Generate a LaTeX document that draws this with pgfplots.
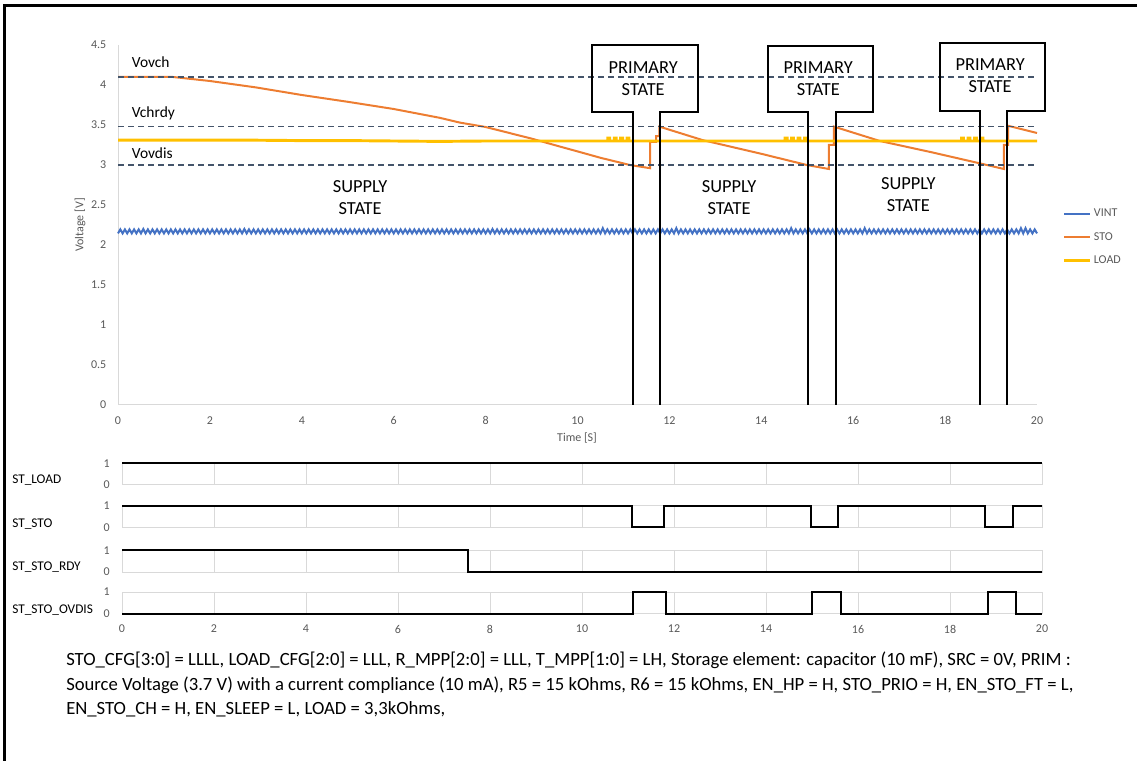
\documentclass[border=0pt]{standalone}
\usepackage{pgfplots}
\pgfplotsset{compat=1.18}
\usepackage{fontspec}
\setmainfont{Carlito}
\definecolor{cVint}{HTML}{4472C4}
\definecolor{cSto}{HTML}{ED7D31}
\definecolor{cLoad}{HTML}{FFC000}
\definecolor{cDash}{HTML}{44546A}
\definecolor{cTick}{HTML}{595959}
\definecolor{cAx}{HTML}{D9D9D9}
\pgfplotsset{
  every axis/.append style={
    scale only axis, clip=false,
    /pgf/number format/assume math mode=true,
    tick label style={font=\fontsize{9}{10}\selectfont, text=cTick},
    major tick length=0pt, tick style={draw=none},
  },
  digi/.style={
    width=690pt, height=16.3pt, xmin=0, xmax=20, ymin=0, ymax=1,
    xtick={0,2,4,6,8,10,12,14,16,18,20}, ytick={0,1},
    xmajorgrids, grid style={cAx, line width=0.75pt},
    axis line style={cAx, line width=0.75pt},
    yticklabel style={xshift=-5.6pt},
    xticklabel style={yshift=-5pt},
    xticklabels={},
  },
  sig/.style={black, line width=1.5pt, line join=miter},
}
\begin{document}
\begin{tikzpicture}
\useasboundingbox (0pt,0pt) rectangle (852.75pt,570pt);

% ---------------- main axis ----------------
\begin{axis}[
  at={(88.5pt,266.25pt)}, anchor=south west,
  width=689.25pt, height=270pt,
  xmin=0, xmax=20, ymin=0, ymax=4.5,
  xtick={0,2,4,6,8,10,12,14,16,18,20},
  ytick={0,0.5,1,1.5,2,2.5,3,3.5,4,4.5},
  yticklabels={0,0.5,1,1.5,2,2.5,3,3.5,4,4.5},
  axis x line*=bottom, axis y line*=left,
  axis line style={-, cAx, line width=0.75pt},
  yticklabel style={xshift=-5.25pt},
  xticklabel style={yshift=-5pt},
  xlabel={Time [S]}, ylabel={Voltage [V]},
  xlabel style={at={(axis description cs:0.4995,-0.0917)}, anchor=center, font=\fontsize{9}{10}\selectfont, text=cTick},
  ylabel style={at={(axis description cs:-0.0413,0.5)}, anchor=center, font=\fontsize{9}{10}\selectfont, text=cTick},
  legend style={at={(axis description cs:1.028,0.552)}, anchor=north west, draw=none, fill=none,
    font=\fontsize{9}{10}\selectfont, text=cTick, row sep=6pt, inner sep=0pt},
  legend cell align=left,
  legend image code/.code={\draw[#1] (0pt,0pt) -- (19pt,0pt);},
]
% VINT
\addplot[cVint, line width=1.5pt] coordinates {
(0,2.145)(0.05,2.195)(0.1,2.145)(0.15,2.195)(0.2,2.145)(0.25,2.195)(0.3,2.145)(0.35,2.195)(0.4,2.145)(0.45,2.195)(0.5,2.145)(0.55,2.2)(0.6,2.145)(0.65,2.195)(0.7,2.145)(0.75,2.195)(0.8,2.145)(0.85,2.195)(0.9,2.145)(0.95,2.195)
(1,2.145)(1.05,2.195)(1.1,2.145)(1.15,2.195)(1.2,2.145)(1.25,2.195)(1.3,2.145)(1.35,2.195)(1.4,2.145)(1.45,2.195)(1.5,2.145)(1.55,2.195)(1.6,2.145)(1.65,2.195)(1.7,2.145)(1.75,2.195)(1.8,2.145)(1.85,2.195)(1.9,2.145)(1.95,2.195)
(2,2.145)(2.05,2.195)(2.1,2.145)(2.15,2.195)(2.2,2.145)(2.25,2.195)(2.3,2.145)(2.35,2.195)(2.4,2.145)(2.45,2.195)(2.5,2.145)(2.55,2.195)(2.6,2.145)(2.65,2.195)(2.7,2.145)(2.75,2.2)(2.8,2.145)(2.85,2.195)(2.9,2.145)(2.95,2.195)
(3,2.145)(3.05,2.195)(3.1,2.145)(3.15,2.195)(3.2,2.145)(3.25,2.195)(3.3,2.145)(3.35,2.195)(3.4,2.145)(3.45,2.195)(3.5,2.145)(3.55,2.195)(3.6,2.145)(3.65,2.195)(3.7,2.145)(3.75,2.195)(3.8,2.145)(3.85,2.195)(3.9,2.145)(3.95,2.195)
(4,2.145)(4.05,2.195)(4.1,2.145)(4.15,2.195)(4.2,2.145)(4.25,2.195)(4.3,2.145)(4.35,2.195)(4.4,2.145)(4.45,2.195)(4.5,2.145)(4.55,2.195)(4.6,2.145)(4.65,2.195)(4.7,2.145)(4.75,2.195)(4.8,2.145)(4.85,2.195)(4.9,2.145)(4.95,2.195)
(5,2.145)(5.05,2.195)(5.1,2.145)(5.15,2.195)(5.2,2.145)(5.25,2.195)(5.3,2.145)(5.35,2.195)(5.4,2.145)(5.45,2.195)(5.5,2.145)(5.55,2.195)(5.6,2.145)(5.65,2.195)(5.7,2.145)(5.75,2.195)(5.8,2.145)(5.85,2.195)(5.9,2.145)(5.95,2.195)
(6,2.145)(6.05,2.195)(6.1,2.145)(6.15,2.195)(6.2,2.145)(6.25,2.195)(6.3,2.145)(6.35,2.195)(6.4,2.145)(6.45,2.195)(6.5,2.145)(6.55,2.195)(6.6,2.145)(6.65,2.195)(6.7,2.145)(6.75,2.195)(6.8,2.145)(6.85,2.195)(6.9,2.145)(6.95,2.195)
(7,2.145)(7.05,2.195)(7.1,2.145)(7.15,2.195)(7.2,2.145)(7.25,2.195)(7.3,2.145)(7.35,2.195)(7.4,2.145)(7.45,2.195)(7.5,2.145)(7.55,2.195)(7.6,2.145)(7.65,2.195)(7.7,2.145)(7.75,2.195)(7.8,2.145)(7.85,2.195)(7.9,2.145)(7.95,2.195)
(8,2.145)(8.05,2.195)(8.1,2.145)(8.15,2.2)(8.2,2.145)(8.25,2.195)(8.3,2.145)(8.35,2.195)(8.4,2.145)(8.45,2.195)(8.5,2.145)(8.55,2.195)(8.6,2.145)(8.65,2.195)(8.7,2.145)(8.75,2.195)(8.8,2.145)(8.85,2.195)(8.9,2.145)(8.95,2.195)
(9,2.145)(9.05,2.195)(9.1,2.145)(9.15,2.195)(9.2,2.145)(9.25,2.195)(9.3,2.145)(9.35,2.195)(9.4,2.145)(9.45,2.195)(9.5,2.145)(9.55,2.195)(9.6,2.145)(9.65,2.195)(9.7,2.145)(9.75,2.195)(9.8,2.145)(9.85,2.195)(9.9,2.145)(9.95,2.195)
(10,2.145)(10.05,2.195)(10.1,2.145)(10.15,2.195)(10.2,2.145)(10.25,2.195)(10.3,2.145)(10.35,2.195)(10.4,2.145)(10.45,2.195)(10.5,2.145)(10.55,2.21)(10.6,2.145)(10.65,2.195)(10.7,2.145)(10.75,2.195)(10.8,2.145)(10.85,2.195)(10.9,2.145)(10.95,2.195)
(11,2.145)(11.05,2.195)(11.1,2.145)(11.15,2.195)(11.2,2.145)(11.25,2.195)(11.3,2.145)(11.35,2.195)(11.4,2.145)(11.45,2.195)(11.5,2.145)(11.55,2.195)(11.6,2.145)(11.65,2.195)(11.7,2.145)(11.75,2.195)(11.8,2.145)(11.85,2.195)(11.9,2.145)(11.95,2.195)
(12,2.145)(12.05,2.195)(12.1,2.145)(12.15,2.21)(12.2,2.145)(12.25,2.195)(12.3,2.145)(12.35,2.195)(12.4,2.145)(12.45,2.195)(12.5,2.145)(12.55,2.195)(12.6,2.145)(12.65,2.195)(12.7,2.145)(12.75,2.195)(12.8,2.145)(12.85,2.195)(12.9,2.145)(12.95,2.195)
(13,2.145)(13.05,2.195)(13.1,2.145)(13.15,2.195)(13.2,2.145)(13.25,2.195)(13.3,2.145)(13.35,2.195)(13.4,2.145)(13.45,2.195)(13.5,2.145)(13.55,2.195)(13.6,2.145)(13.65,2.195)(13.7,2.145)(13.75,2.195)(13.8,2.145)(13.85,2.195)(13.9,2.145)(13.95,2.195)
(14,2.145)(14.05,2.195)(14.1,2.145)(14.15,2.195)(14.2,2.145)(14.25,2.195)(14.3,2.145)(14.35,2.195)(14.4,2.145)(14.45,2.195)(14.5,2.145)(14.55,2.195)(14.6,2.145)(14.65,2.21)(14.7,2.145)(14.75,2.195)(14.8,2.145)(14.85,2.195)(14.9,2.145)(14.95,2.195)
(15,2.145)(15.05,2.195)(15.1,2.145)(15.15,2.195)(15.2,2.145)(15.25,2.195)(15.3,2.145)(15.35,2.195)(15.4,2.145)(15.45,2.195)(15.5,2.145)(15.55,2.195)(15.6,2.145)(15.65,2.195)(15.7,2.145)(15.75,2.195)(15.8,2.145)(15.85,2.195)(15.9,2.145)(15.95,2.195)
(16,2.145)(16.05,2.195)(16.1,2.145)(16.15,2.195)(16.2,2.145)(16.25,2.21)(16.3,2.145)(16.35,2.195)(16.4,2.145)(16.45,2.195)(16.5,2.145)(16.55,2.195)(16.6,2.145)(16.65,2.195)(16.7,2.145)(16.75,2.195)(16.8,2.145)(16.85,2.195)(16.9,2.145)(16.95,2.195)
(17,2.145)(17.05,2.195)(17.1,2.145)(17.15,2.195)(17.2,2.145)(17.25,2.195)(17.3,2.145)(17.35,2.195)(17.4,2.145)(17.45,2.195)(17.5,2.145)(17.55,2.195)(17.6,2.145)(17.65,2.195)(17.7,2.145)(17.75,2.195)(17.8,2.145)(17.85,2.195)(17.9,2.145)(17.95,2.195)
(18,2.145)(18.05,2.195)(18.1,2.145)(18.15,2.195)(18.2,2.145)(18.25,2.195)(18.3,2.145)(18.35,2.195)(18.4,2.145)(18.45,2.195)(18.5,2.145)(18.55,2.195)(18.6,2.145)(18.65,2.195)(18.7,2.145)(18.75,2.195)(18.8,2.145)(18.85,2.195)(18.9,2.145)(18.95,2.195)
(19,2.145)(19.05,2.195)(19.1,2.145)(19.15,2.195)(19.2,2.145)(19.25,2.195)(19.3,2.145)(19.35,2.195)(19.4,2.145)(19.45,2.195)(19.5,2.145)(19.55,2.195)(19.6,2.145)(19.65,2.21)(19.7,2.145)(19.75,2.21)(19.8,2.145)(19.85,2.195)(19.9,2.145)(19.95,2.195)
(20,2.145)
};
\addlegendentry{VINT}
% STO
\addplot[cSto, line width=1.5pt, line join=miter] coordinates {
(0,4.10)(1.2,4.10)(2,4.05)(3,3.97)(4,3.875)(5,3.79)(6,3.70)(7,3.59)(7.44,3.53)(8,3.475)(9,3.33)(9.62,3.23)(10,3.17)(10.5,3.09)(11.14,3.00)(11.58,2.96)
(11.58,3.29)(11.71,3.29)(11.71,3.36)(11.78,3.36)(11.78,3.48)
(12.73,3.31)(14,3.14)(14.99,3.00)(15.47,2.95)
(15.47,3.25)(15.58,3.25)(15.58,3.48)
(16.58,3.30)(17.7,3.16)(18.76,3.02)(19.28,2.95)
(19.28,3.25)(19.37,3.25)(19.37,3.49)(20,3.40)
};
\addlegendentry{STO}
% LOAD
\addplot[cLoad, line width=2.2pt, line join=miter] coordinates {
(0,3.31)(1,3.31)(2,3.31)(3,3.31)(4,3.305)(5,3.305)(6,3.30)(7,3.295)(8,3.30)(9,3.30)(10,3.30)(10.66,3.30)
(10.66,3.335)(10.7,3.335)(10.7,3.30)(10.8,3.30)(10.8,3.335)(10.84,3.335)(10.84,3.30)(10.94,3.30)(10.94,3.335)(10.98,3.335)(10.98,3.30)(11.08,3.30)(11.08,3.335)(11.12,3.335)(11.12,3.30)
(12,3.30)(13,3.30)(14,3.30)(14.52,3.30)
(14.52,3.335)(14.56,3.335)(14.56,3.30)(14.66,3.30)(14.66,3.335)(14.7,3.335)(14.7,3.30)(14.8,3.30)(14.8,3.335)(14.84,3.335)(14.84,3.30)(14.94,3.30)(14.94,3.335)(14.98,3.335)(14.98,3.30)
(16,3.30)(17,3.30)(18,3.30)(18.36,3.30)
(18.36,3.335)(18.4,3.335)(18.4,3.30)(18.5,3.30)(18.5,3.335)(18.54,3.335)(18.54,3.30)(18.64,3.30)(18.64,3.335)(18.68,3.335)(18.68,3.30)(18.78,3.30)(18.78,3.335)(18.82,3.335)(18.82,3.30)
(19,3.30)(20,3.30)
};
\addlegendentry{LOAD}
% threshold lines
\addplot[forget plot, cDash, line width=1.1pt, dash pattern=on 4.5pt off 3pt] coordinates {(0,4.10)(20,4.10)};
\addplot[forget plot, cDash, line width=1.1pt, dash pattern=on 4.5pt off 3pt] coordinates {(0,3.48)(20,3.48)};
\addplot[forget plot, cDash, line width=1.1pt, dash pattern=on 4.5pt off 3pt] coordinates {(0,3.00)(20,3.00)};
% annotations
\node[anchor=west, font=\fontsize{11.6}{13}\selectfont] at (axis cs:0.2,4.284) {Vovch};
\node[anchor=west, font=\fontsize{11.6}{13}\selectfont] at (axis cs:0.2,3.646) {Vchrdy};
\node[anchor=west, font=\fontsize{11.6}{13}\selectfont] at (axis cs:0.2,3.146) {Vovdis};
\node[align=center, font=\fontsize{13.8}{16.5}\selectfont] at (axis cs:5.27,2.59) {SUPPLY\\STATE};
\node[align=center, font=\fontsize{13.8}{16.5}\selectfont] at (axis cs:13.30,2.594) {SUPPLY\\STATE};
\node[align=center, font=\fontsize{13.8}{16.5}\selectfont] at (axis cs:17.20,2.63) {SUPPLY\\STATE};
\draw[black, line width=1.5pt, line join=miter] (axis cs:11.2,0) -- (axis cs:11.2,3.66) -- (axis cs:10.32,3.66) -- (axis cs:10.32,4.5) -- (axis cs:12.62,4.5) -- (axis cs:12.62,3.66) -- (axis cs:11.8,3.66) -- (axis cs:11.8,0);
\draw[black, line width=1.5pt, line join=miter] (axis cs:15.02,0) -- (axis cs:15.02,3.66) -- (axis cs:14.15,3.66) -- (axis cs:14.15,4.49) -- (axis cs:16.43,4.49) -- (axis cs:16.43,3.66) -- (axis cs:15.62,3.66) -- (axis cs:15.62,0);
\draw[black, line width=1.5pt, line join=miter] (axis cs:18.76,0) -- (axis cs:18.76,3.68) -- (axis cs:17.89,3.68) -- (axis cs:17.89,4.525) -- (axis cs:20.17,4.525) -- (axis cs:20.17,3.68) -- (axis cs:19.35,3.68) -- (axis cs:19.35,0);
\node[align=center, font=\fontsize{13.8}{16.5}\selectfont] at (axis cs:11.43,4.084) {PRIMARY\\STATE};
\node[align=center, font=\fontsize{13.8}{16.5}\selectfont] at (axis cs:15.24,4.084) {PRIMARY\\STATE};
\node[align=center, font=\fontsize{13.8}{16.5}\selectfont] at (axis cs:18.98,4.115) {PRIMARY\\STATE};
\end{axis}

% ---------------- digital axes ----------------
\begin{axis}[digi, at={(91.5pt,206.25pt)}, anchor=south west]
\addplot[sig] coordinates {(0,1)(20,1)};
\end{axis}
\begin{axis}[digi, at={(91.5pt,174.5pt)}, anchor=south west]
\addplot[sig] coordinates {(0,1)(11.08,1)(11.08,0)(11.78,0)(11.78,1)(14.97,1)(14.97,0)(15.57,0)(15.57,1)(18.77,1)(18.77,0)(19.38,0)(19.38,1)(20,1)};
\end{axis}
\begin{axis}[digi, at={(91.5pt,141pt)}, anchor=south west]
\addplot[sig] coordinates {(0,1)(7.52,1)(7.52,0)(20,0)};
\end{axis}
\begin{axis}[digi, at={(91.5pt,109.7pt)}, anchor=south west, xticklabels={0,2,4,6,8,10,12,14,16,18,20}]
\addplot[sig] coordinates {(0,0)(11.11,0)(11.11,1)(11.83,1)(11.83,0)(15.01,0)(15.01,1)(15.62,1)(15.62,0)(18.82,0)(18.82,1)(19.43,1)(19.43,0)(20,0)};
\end{axis}

\node[anchor=west, inner sep=0pt, font=\fontsize{10}{12}\selectfont] at (9pt,210pt) {ST\_LOAD};
\node[anchor=west, inner sep=0pt, font=\fontsize{10}{12}\selectfont] at (9pt,177pt) {ST\_STO};
\node[anchor=west, inner sep=0pt, font=\fontsize{10}{12}\selectfont] at (9pt,144.5pt) {ST\_STO\_RDY};
\node[anchor=west, inner sep=0pt, font=\fontsize{10}{12}\selectfont] at (9pt,112.5pt) {ST\_STO\_OVDIS};

% caption
\node[anchor=base west, inner sep=0pt, font=\fontsize{14}{16}\selectfont] at (49.5pt,71.25pt) {STO\_CFG[3:0] = LLLL, LOAD\_CFG[2:0] = LLL, R\_MPP[2:0] = LLL, T\_MPP[1:0] = LH, Storage element: capacitor (10 mF), SRC = 0V, PRIM :};
\node[anchor=base west, inner sep=0pt, font=\fontsize{14}{16}\selectfont] at (49.5pt,52.5pt) {Source Voltage (3.7 V) with a current compliance (10 mA), R5 = 15 kOhms, R6 = 15 kOhms, EN\_HP = H, STO\_PRIO = H, EN\_STO\_FT = L,};
\node[anchor=base west, inner sep=0pt, font=\fontsize{14}{16}\selectfont] at (49.5pt,34.5pt) {EN\_STO\_CH = H, EN\_SLEEP = L, LOAD = 3,3kOhms,};

% frame
\draw[black, line width=2.6pt, line join=miter] (3.5pt,-2pt) -- (3.5pt,565.7pt) -- (856pt,565.7pt);
\end{tikzpicture}
\end{document}
